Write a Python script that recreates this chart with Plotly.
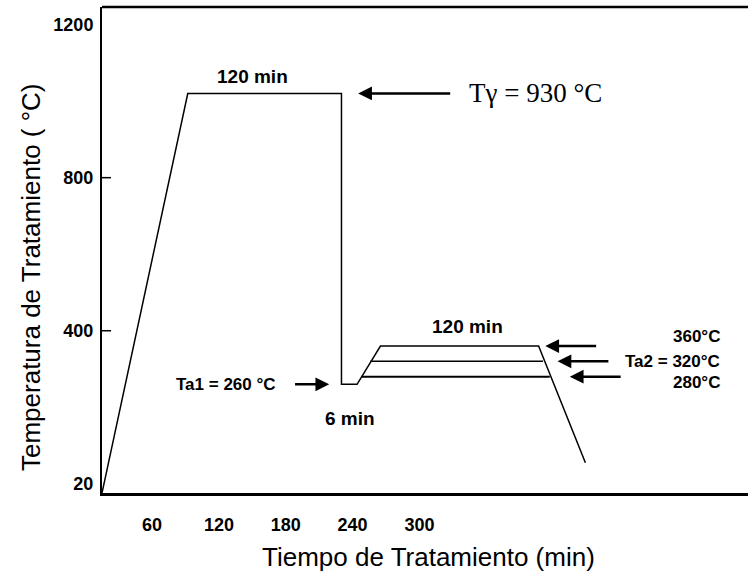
import plotly.graph_objects as go

# Heat-treatment schedule (time in min, temperature on the schematic axis)
profile_time = [15, 92, 230, 230, 244, 265, 407, 449]
profile_temp = [-24, 1020, 1020, 260, 260, 360, 360, 55]

# Alternative austempering holds branching off the same ramp
hold_320_time = [256, 411]
hold_320_temp = [320, 320]
hold_280_time = [248, 417]
hold_280_temp = [280, 280]

# Axis ticks
x_ticks = [60, 120, 180, 240, 300]
y_tick_vals = [0, 400, 800, 1200]
y_tick_text = ["20", "400", "800", "1200"]
y_tick_marks = [400, 800]

# Reference temperatures written on the diagram
t_gamma = 1020
ta1 = 260
ta2_levels = [360, 320, 280]

BOLD = dict(family="Liberation Sans, Arial", color="black", weight="bold")

fig = go.Figure()
fig.add_trace(go.Scatter(x=profile_time, y=profile_temp, mode="lines",
                         line=dict(color="black", width=1.5), hoverinfo="skip"))
fig.add_trace(go.Scatter(x=hold_320_time, y=hold_320_temp, mode="lines",
                         line=dict(color="black", width=1.5), hoverinfo="skip"))
fig.add_trace(go.Scatter(x=hold_280_time, y=hold_280_temp, mode="lines",
                         line=dict(color="black", width=2), hoverinfo="skip"))


def arrow(x_tip, x_tail, y):
    return dict(x=x_tip, y=y, ax=x_tail, ay=y, xref="x", yref="y",
                axref="x", ayref="y", text="", showarrow=True,
                arrowhead=2, arrowsize=1.1, arrowwidth=2.5,
                arrowcolor="black", standoff=0)


def label(x, y, text, size, xanchor="center", family=None, bold=True):
    font = dict(BOLD, size=size) if bold else dict(family=family, color="black", size=size)
    return dict(x=x, y=y, xref="x", yref="y", text=text, showarrow=False,
                xanchor=xanchor, yanchor="middle", font=font)


annotations = [
    label(150, 1065, "120 min", 19),
    arrow(245, 329, t_gamma),
    label(343, t_gamma, "T\u03b3 = 930 \u00b0C", 27, xanchor="left",
          family="Liberation Serif, Times New Roman", bold=False),
    label(173, ta1, "Ta1 = 260 \u00b0C", 17, xanchor="right"),
    arrow(219, 187, ta1),
    label(238, 172, "6 min", 19),
    label(343, 410, "120 min", 19),
    arrow(413, 460, ta2_levels[0]),
    arrow(424, 471, ta2_levels[1]),
    arrow(435, 482, ta2_levels[2]),
    label(572, 386, "360\u00b0C", 17, xanchor="right"),
    label(572, 320, "Ta2 = 320\u00b0C", 17, xanchor="right"),
    label(572, 266, "280\u00b0C", 17, xanchor="right"),
    dict(x=-0.111, y=0.445, xref="paper", yref="paper", showarrow=False,
         text="Temperatura de Tratamiento ( \u00b0C)", textangle=-90,
         font=dict(family="Liberation Sans, Arial", size=26, color="black"),
         xanchor="center", yanchor="middle"),
    dict(x=0.505, y=-0.132, xref="paper", yref="paper", showarrow=False,
         text="Tiempo de Tratamiento (min)",
         font=dict(family="Liberation Sans, Arial", size=26, color="black"),
         xanchor="center", yanchor="middle"),
]

shapes = [dict(type="line", xref="paper", yref="paper", x0=0, x1=1, y0=1, y1=1,
               line=dict(color="black", width=2.5))]
for v in y_tick_marks:
    shapes.append(dict(type="line", xref="paper", yref="y", x0=0, x1=0.014,
                       y0=v, y1=v, line=dict(color="black", width=1.5)))

fig.update_layout(
    width=748, height=577,
    margin=dict(l=102, r=0, t=7, b=84),
    paper_bgcolor="white", plot_bgcolor="white",
    showlegend=False,
    annotations=annotations,
    shapes=shapes,
    xaxis=dict(range=[15, 595], tickvals=x_ticks, showgrid=False, zeroline=False,
               showline=True, linecolor="black", linewidth=2.5, ticks="",
               tickfont=dict(BOLD, size=18), ticklabelstandoff=14),
    yaxis=dict(range=[-24, 1246], tickvals=y_tick_vals, ticktext=y_tick_text,
               showgrid=False, zeroline=False, showline=True, linecolor="black",
               linewidth=2, ticks="", tickfont=dict(BOLD, size=18),
               ticklabelstandoff=3),
)

fig.write_html("out.html")
